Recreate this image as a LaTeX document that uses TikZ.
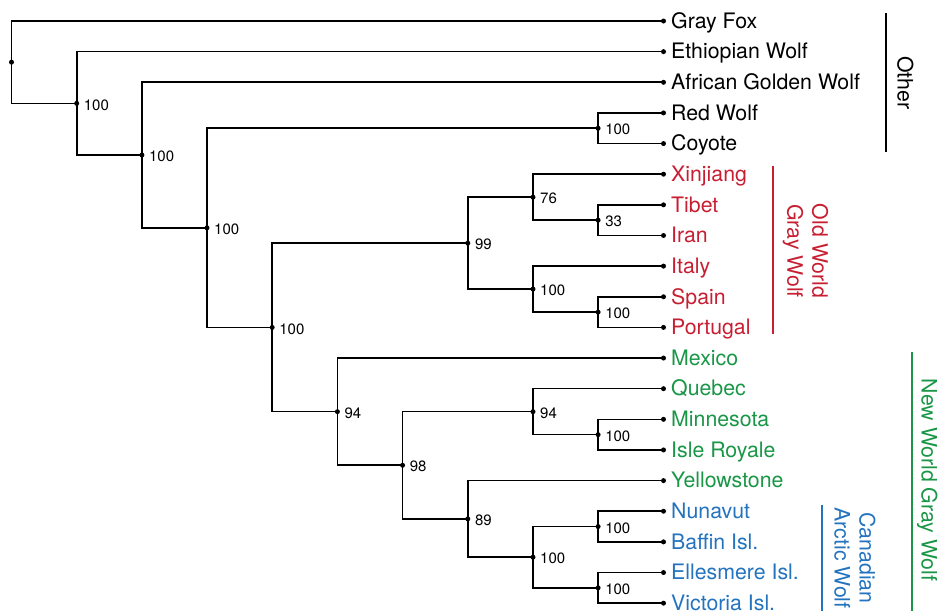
\documentclass[tikz,border=0pt]{standalone}
\usepackage{fontspec}
\setmainfont{TeX Gyre Heros}
\begin{document}
\begin{tikzpicture}[x=1pt,y=-1pt,
  branch/.style={line width=1.6pt,line join=miter},
  dot/.style={circle,fill=black,inner sep=0pt,minimum size=5pt},
  leaflab/.style={anchor=base west,inner sep=0pt,font=\fontsize{21.3}{25}\selectfont},
  boot/.style={anchor=west,inner sep=0pt,font=\fontsize{15}{18}\selectfont},
  bracket/.style={line width=1.8pt},
  grp/.style={rotate=-90,align=center,inner sep=0pt,font=\fontsize{21.3}{25}\selectfont},
]
\definecolor{owred}{RGB}{200,30,50}
\definecolor{nwgreen}{RGB}{25,150,70}
\definecolor{cablue}{RGB}{35,115,190}
\useasboundingbox (0,0) rectangle (943,611);

% leaves
\foreach \i/\name/\col in {0/Gray Fox/black,1/Ethiopian Wolf/black,2/African Golden Wolf/black,3/Red Wolf/black,4/Coyote/black,5/Xinjiang/owred,6/Tibet/owred,7/Iran/owred,8/Italy/owred,9/Spain/owred,10/Portugal/owred,11/Mexico/nwgreen,12/Quebec/nwgreen,13/Minnesota/nwgreen,14/Isle Royale/nwgreen,15/Yellowstone/nwgreen,16/Nunavut/cablue,17/Baffin Isl./cablue,18/Ellesmere Isl./cablue,19/Victoria Isl./cablue}{
  \node[dot] (l\i) at (663.5,{21+30.64*\i}) {};
  \node[leaflab,text=\col] (t\i) at (671,{21+30.64*\i+7.3}) {\name};
}

% internal nodes
\node[dot] (root) at (11.5,62.18) {};
\node[dot] (A) at (76.7,103.35) {};
\node[dot] (B) at (141.9,155.05) {};
\node[dot] (C) at (207.0,227.82) {};
\node[dot] (D) at (598.1,128.24) {};
\node[dot] (E) at (272.2,327.4) {};
\node[dot] (F) at (467.8,243.14) {};
\node[dot] (H) at (533.0,197.18) {};
\node[dot] (J) at (598.1,220.16) {};
\node[dot] (I) at (533.0,289.1) {};
\node[dot] (K) at (598.1,312.08) {};
\node[dot] (G) at (337.4,411.66) {};
\node[dot] (L) at (402.6,465.28) {};
\node[dot] (M) at (533.0,411.66) {};
\node[dot] (O) at (598.1,434.64) {};
\node[dot] (N) at (467.8,518.9) {};
\node[dot] (P) at (533.0,557.2) {};
\node[dot] (Q) at (598.1,526.56) {};
\node[dot] (R) at (598.1,587.84) {};

% branches
\foreach \n/\a/\b in {root/l0/A, A/l1/B, B/l2/C, C/D/E, D/l3/l4, E/F/G, F/H/I, H/l5/J, J/l6/l7, I/l8/K, K/l9/l10, G/l11/L, L/M/N, M/l12/O, O/l13/l14, N/l15/P, P/Q/R, Q/l16/l17, R/l18/l19}{
  \draw[branch] (\a.center) -| (\n.center) |- (\b.center);
}

% support values
\foreach \n/\v in {A/100, B/100, C/100, D/100, E/100, F/99, H/76, J/33, I/100, K/100, G/94, L/98, M/94, O/100, N/89, P/100, Q/100, R/100}{
  \node[boot] (s\n) at ([xshift=7pt,yshift=-1.5pt]\n.center) {\v};
}

% group brackets
\coordinate (ot1) at (885.7,13);  \coordinate (ot2) at (885.7,152);
\coordinate (ow1) at (773.3,165.7); \coordinate (ow2) at (773.3,334);
\coordinate (nw1) at (911.7,351.7); \coordinate (nw2) at (911.7,611);
\coordinate (ca1) at (821.7,505);  \coordinate (ca2) at (821.7,611);
\draw[bracket] (ot1) -- (ot2);
\draw[bracket,owred] (ow1) -- (ow2);
\draw[bracket,nwgreen] (nw1) -- (nw2);
\draw[bracket,cablue] (ca1) -- (ca2);

\node[grp] (gOther) at (905.3,83) {Other};
\node[grp,text=owred] (gOld) at (805.5,251) {Old World\\Gray Wolf};
\node[grp,text=nwgreen] (gNew) at (927.2,480) {New World Gray Wolf};
\node[grp,text=cablue] (gCan) at (854.8,558) {Canadian\\Arctic Wolf};
\end{tikzpicture}
\end{document}
